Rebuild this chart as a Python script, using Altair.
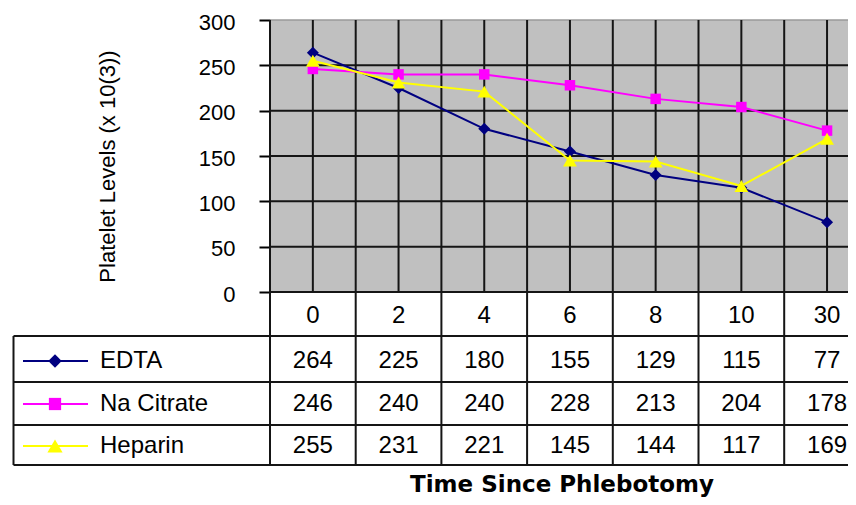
import altair as alt
import pandas as pd

# ---------------- data ----------------
times = ["0", "2", "4", "6", "8", "10", "30"]
series_names = ["EDTA", "Na Citrate", "Heparin"]
edta = [264, 225, 180, 155, 129, 115, 77]
na_citrate = [246, 240, 240, 228, 213, 204, 178]
heparin = [255, 231, 221, 145, 144, 117, 169]
y_ticks = [0, 50, 100, 150, 200, 250, 300]
x_title = "Time Since Phlebotomy"
y_title = "Platelet Levels (x 10(3))"

series_values = [edta, na_citrate, heparin]
colors = ["#000080", "#FF00FF", "#FFFF00"]
shapes = ["diamond", "square", "triangle-up"]
point_sizes = [144, 110, 190]
legend_sizes = [180, 150, 230]

# ---------------- layout (page pixels) ----------------
LEFT, TOP, ZERO, RIGHT = 270, 20, 292, 848
BAND = 85.7
TABLE_LEFT, TABLE_BOTTOM = 13.5, 465
ROW_LINES = [336, 382, 425, 465]
HEADER_Y = 316
ROW_Y = [361, 404, 446]
W = RIGHT - LEFT
H = TABLE_BOTTOM - TOP
PX_PER_UNIT = (ZERO - TOP) / 300.0
FONT = "Liberation Sans"
FSIZE = 24


def xv(px):
    return -0.5 + (px - LEFT) / BAND


def yv(py):
    return (ZERO - py) / PX_PER_UNIT


XS = alt.Scale(domain=[xv(LEFT), xv(RIGHT)], nice=False, zero=False)
YS = alt.Scale(domain=[yv(TABLE_BOTTOM), 300], nice=False, zero=False)

YAX = alt.Axis(
    values=y_ticks, domain=False, grid=False,
    tickSize=11, tickColor="black", tickWidth=2,
    labelFont=FONT, labelFontSize=22, labelColor="black", labelOffset=2,
    labelPadding=24, labelFlush=False, labelOverlap=False, labelBound=False,
    title=y_title, titleFont="Liberation Sans", titleFontSize=22,
    titleFontWeight="normal", titleColor="black",
    titleX=107 - LEFT, titleY=166 - TOP, titleAngle=270,
    titleAlign="center", titleBaseline="middle",
)


def X(f):
    return alt.X(f, type="quantitative", scale=XS, axis=None)


def Y(f):
    return alt.Y(f, type="quantitative", scale=YS, axis=YAX)


GRID = "#151515"
layers = []

# gray plot background
bg = pd.DataFrame({"x": [xv(LEFT)], "x2": [xv(RIGHT)], "y": [0], "y2": [300]})
layers.append(alt.Chart(bg).mark_rect(color="#C0C0C0").encode(
    x=X("x"), x2=alt.X2("x2"), y=Y("y"), y2=alt.Y2("y2")))

# top border
top_df = pd.DataFrame({"x": [xv(LEFT)], "x2": [xv(RIGHT)], "y": [300]})
layers.append(alt.Chart(top_df).mark_rule(color="#9a9a9a", strokeWidth=1.5).encode(
    x=X("x"), x2=alt.X2("x2"), y=Y("y")))

# horizontal gridlines (incl. zero line)
hg = pd.DataFrame({"y": y_ticks[:-1]})
hg["x"] = xv(LEFT)
hg["x2"] = xv(RIGHT)
layers.append(alt.Chart(hg).mark_rule(color=GRID, strokeWidth=2).encode(
    x=X("x"), x2=alt.X2("x2"), y=Y("y")))

# vertical gridlines at category centres
vc = pd.DataFrame({"x": list(range(len(times)))})
vc["y"] = 0
vc["y2"] = 300
layers.append(alt.Chart(vc).mark_rule(color=GRID, strokeWidth=2).encode(
    x=X("x"), y=Y("y"), y2=alt.Y2("y2")))

# vertical lines at category boundaries (through plot and table)
vb = pd.DataFrame({"x": [i - 0.5 for i in range(len(times))]})
vb["y"] = yv(TABLE_BOTTOM)
vb["y2"] = 300
layers.append(alt.Chart(vb).mark_rule(color=GRID, strokeWidth=2).encode(
    x=X("x"), y=Y("y"), y2=alt.Y2("y2")))

# table horizontal lines
th = pd.DataFrame({"y": [yv(p) for p in ROW_LINES]})
th["x"] = xv(TABLE_LEFT)
th["x2"] = xv(RIGHT)
layers.append(alt.Chart(th).mark_rule(color=GRID, strokeWidth=2).encode(
    x=X("x"), x2=alt.X2("x2"), y=Y("y")))

# table left border
tl = pd.DataFrame({"x": [xv(TABLE_LEFT)], "y": [yv(ROW_LINES[0])], "y2": [yv(TABLE_BOTTOM)]})
layers.append(alt.Chart(tl).mark_rule(color=GRID, strokeWidth=2).encode(
    x=X("x"), y=Y("y"), y2=alt.Y2("y2")))

# series lines and markers
for name, vals, col, shp, sz in zip(series_names, series_values, colors, shapes, point_sizes):
    d = pd.DataFrame({"x": list(range(len(times))), "y": vals, "series": name})
    layers.append(alt.Chart(d).mark_line(color=col, strokeWidth=2).encode(
        x=X("x"), y=Y("y")))
    layers.append(alt.Chart(d).mark_point(shape=shp, filled=True, size=sz, color=col, opacity=1).encode(
        x=X("x"), y=Y("y")))

TEXT_STYLE = dict(font=FONT, fontSize=FSIZE, color="black", baseline="middle")

# table header (categories)
hd = pd.DataFrame({"x": list(range(len(times))), "label": times, "y": yv(HEADER_Y)})
layers.append(alt.Chart(hd).mark_text(align="center", **TEXT_STYLE).encode(
    x=X("x"), y=Y("y"), text="label:N"))

# table values
rows = []
for name, vals, ry in zip(series_names, series_values, ROW_Y):
    for i, v in enumerate(vals):
        rows.append({"x": i, "y": yv(ry), "label": str(v)})
tv = pd.DataFrame(rows)
layers.append(alt.Chart(tv).mark_text(align="center", **TEXT_STYLE).encode(
    x=X("x"), y=Y("y"), text="label:N"))

# legend column
for name, col, shp, sz, ry in zip(series_names, colors, shapes, legend_sizes, ROW_Y):
    lr = pd.DataFrame({"x": [xv(23)], "x2": [xv(88)], "y": [yv(ry)]})
    layers.append(alt.Chart(lr).mark_rule(color=col, strokeWidth=2).encode(
        x=X("x"), x2=alt.X2("x2"), y=Y("y")))
    lp = pd.DataFrame({"x": [xv(55)], "y": [yv(ry)]})
    layers.append(alt.Chart(lp).mark_point(shape=shp, filled=True, size=sz, color=col, opacity=1).encode(
        x=X("x"), y=Y("y")))
    lt = pd.DataFrame({"x": [xv(100)], "y": [yv(ry)], "label": [name]})
    layers.append(alt.Chart(lt).mark_text(align="left", **TEXT_STYLE).encode(
        x=X("x"), y=Y("y"), text="label:N"))

# x title
tt = pd.DataFrame({"x": [xv(562)], "y": [yv(492)], "label": [x_title]})
layers.append(alt.Chart(tt).mark_text(align="center", baseline="alphabetic", font="DejaVu Sans",
                                       fontSize=23, fontWeight="bold", color="black").encode(
    x=X("x"), y=Y("y"), text="label:N"))

chart = alt.layer(*layers).properties(
    width=W, height=H,
    padding={"left": LEFT - 8, "top": TOP - 8, "right": 0, "bottom": 489 - (TOP - 8) - H},
    autosize=alt.AutoSizeParams(type="none"),
    background="white",
).configure_view(stroke=None)

chart.save("out.html", embed_options={"renderer": "svg", "actions": False})
